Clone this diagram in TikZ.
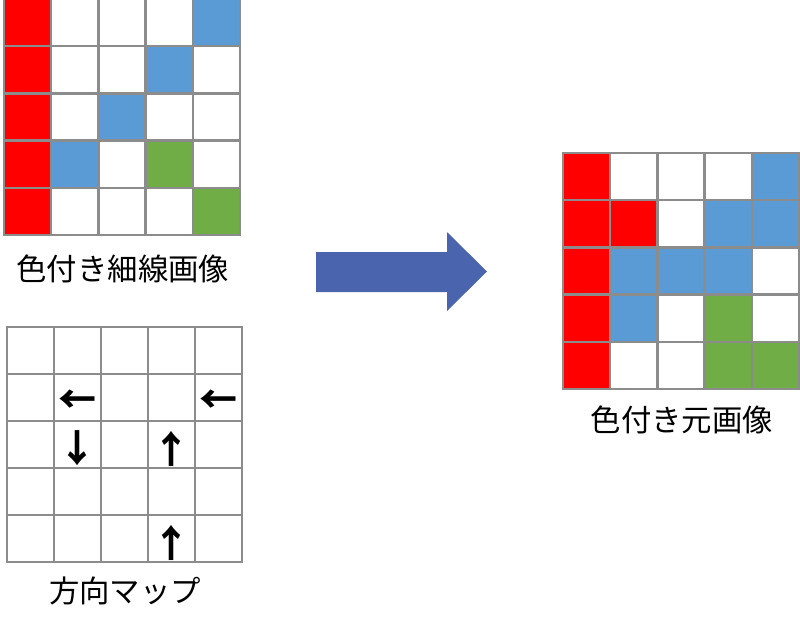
\documentclass[tikz,border=0pt]{standalone}
\usepackage{fontspec}
\usepackage{tikz}
\usetikzlibrary{positioning}
\newfontfamily\jpfont{Noto Sans CJK JP}
\definecolor{gridgray}{HTML}{8C8C8C}
\definecolor{cr}{HTML}{FF0000}
\definecolor{cw}{HTML}{FFFFFF}
\definecolor{cb}{HTML}{5B9BD5}
\definecolor{cg}{HTML}{70AD47}
\definecolor{flowblue}{HTML}{4A65AD}
\tikzset{
  cell/.style={draw=gridgray, line width=1.2pt, minimum size=23.6pt, inner sep=0pt, outer sep=0pt},
  caption/.style={font=\jpfont\fontsize{15.2}{18}\selectfont, text=black, inner sep=0pt},
  dirmark/.style={font=\jpfont\bfseries\fontsize{19}{21}\selectfont, text=black, inner sep=0pt}
}

\begin{document}
\begin{tikzpicture}[x=0.5pt, y=-0.5pt]
\useasboundingbox (0,0) rectangle (800,629);
% thin coloured image
\foreach \cols [count=\r] in {{cr,cw,cw,cw,cb},{cr,cw,cw,cb,cw},{cr,cw,cb,cw,cw},{cr,cb,cw,cg,cw},{cr,cw,cw,cw,cg}}
  \foreach \fillc [count=\c] in \cols
    \node[cell, fill=\fillc] (thin-\r-\c) at ({4+47.2*(\c-0.5)}, {-1+47.2*(\r-0.5)}) {};
\node[caption] (thinlbl) at (123,269) {色付き細線画像};
% direction map
\foreach \r in {1,...,5}
  \foreach \c in {1,...,5}
    \node[cell, fill=white] (map-\r-\c) at ({7+47*(\c-0.5)}, {327+47*(\r-0.5)}) {};
\foreach \r/\c/\g in {2/2/←, 2/5/←, 3/2/↓, 3/4/↑, 5/4/↑}
  \node[dirmark] (mark-\r-\c) at ([yshift=-2pt]map-\r-\c) {\g};
\node[caption] (maplbl) at (125,591) {方向マップ};
% big arrow
\fill[flowblue] (316,252) -- (447,252) -- (447,232) -- (487,271.5) -- (447,311) -- (447,292) -- (316,292) -- cycle;
% original coloured image
\foreach \cols [count=\r] in {{cr,cw,cw,cw,cb},{cr,cr,cw,cb,cb},{cr,cb,cb,cb,cw},{cr,cb,cw,cg,cw},{cr,cw,cw,cg,cg}}
  \foreach \fillc [count=\c] in \cols
    \node[cell, fill=\fillc] (orig-\r-\c) at ({563+47.2*(\c-0.5)}, {153+47.2*(\r-0.5)}) {};
\node[caption] (origlbl) at (682,420) {色付き元画像};
\end{tikzpicture}
\end{document}
